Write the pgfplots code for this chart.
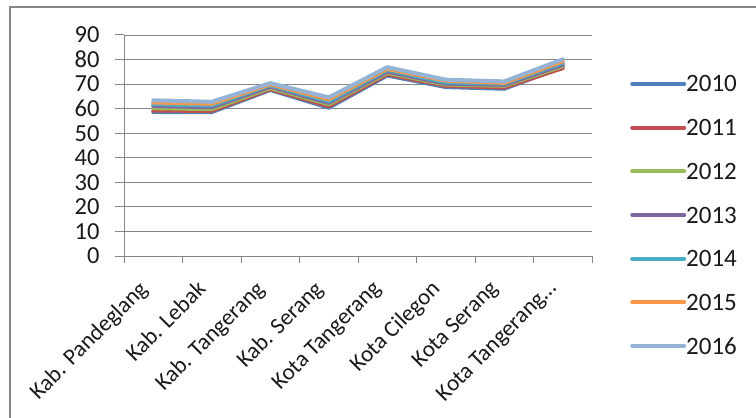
\documentclass[border=0pt]{standalone}
\usepackage{pgfplots}
\pgfplotsset{compat=1.18}
\usepackage{fontspec}
\setmainfont{Carlito}
\definecolor{cA}{HTML}{4F81BD}
\definecolor{cB}{HTML}{C0504D}
\definecolor{cC}{HTML}{9BBB59}
\definecolor{cD}{HTML}{8064A2}
\definecolor{cE}{HTML}{4BACC6}
\definecolor{cF}{HTML}{F79646}
\definecolor{cG}{HTML}{95B3D7}
\definecolor{gridcol}{HTML}{868686}
\definecolor{txt}{HTML}{1A1A1A}
\begin{document}
\begin{tikzpicture}[x=1bp,y=1bp]
\path[use as bounding box] (0,0) rectangle (756,417);
\draw[color=gridcol, line width=2bp] (10,-5) -- (10,410) -- (760,410);
\begin{axis}[
  at={(124bp,161bp)}, anchor=south west,
  scale only axis, width=468bp, height=221bp,
  xmin=-0.5, xmax=7.5, ymin=0, ymax=90,
  axis lines*=left,
  axis line style={gridcol, line width=1bp},
  ytick={0,10,...,90},
  ymajorgrids, grid style={gridcol, line width=0.8bp},
  xtick={0,...,7},
  xticklabels={Kab. Pandeglang, Kab. Lebak, Kab. Tangerang, Kab. Serang, Kota Tangerang, Kota Cilegon, Kota Serang, Kota Tangerang…},
  minor xtick={-0.5,0.5,...,7.5},
  major x tick style={draw=none},
  tick align=outside,
  major tick length=9bp, minor tick length=7bp,
  tick style={gridcol, line width=1bp},
  every tick/.style={gridcol, line width=1bp},
  /pgf/number format/assume math mode=true,
  yticklabel style={font=\fontsize{24.5bp}{28bp}\selectfont, text=txt, anchor=east, xshift=-12bp},
  xticklabel style={font=\fontsize{23bp}{27bp}\selectfont, text=txt, xshift=-16bp, yshift=-11bp, rotate=45, anchor=north east, inner sep=2bp},
  clip=false,
  legend style={at={(1.0812,0.1855)}, anchor=west, draw=none, fill=none, inner sep=0pt,
    font=\fontsize{25bp}{28bp}\selectfont, text=txt,
    nodes={inner sep=0bp, text height=16bp, text depth=0bp},
    column sep=0bp, row sep=27.7bp},
  legend cell align=left,
  legend image code/.code={\draw[#1] (0bp,0bp) -- (52bp,0bp);},
  every axis plot/.append style={line width=4bp, line join=round, line cap=round},
]
\addplot[cA] coordinates {(0,58.6) (1,58.6) (2,67.6) (3,60.4) (4,73.5) (5,68.8) (6,68.1) (7,77.0)};
\addplot[cB] coordinates {(0,59.2) (1,59.1) (2,67.9) (3,61.0) (4,74.0) (5,69.3) (6,68.6) (7,76.5)};
\addplot[cC] coordinates {(0,60.2) (1,59.8) (2,68.4) (3,61.8) (4,74.6) (5,69.8) (6,69.3) (7,77.3)};
\addplot[cD] coordinates {(0,61.1) (1,60.6) (2,69.0) (3,62.4) (4,75.1) (5,70.2) (6,69.7) (7,77.9)};
\addplot[cE] coordinates {(0,61.8) (1,61.3) (2,69.5) (3,63.0) (4,75.7) (5,70.7) (6,70.2) (7,78.6)};
\addplot[cF] coordinates {(0,62.5) (1,62.0) (2,69.9) (3,63.8) (4,76.2) (5,71.4) (6,70.5) (7,79.3)};
\addplot[cG] coordinates {(0,63.4) (1,62.8) (2,70.4) (3,64.6) (4,76.9) (5,71.8) (6,71.1) (7,80.1)};
\legend{2010,2011,2012,2013,2014,2015,2016}
\end{axis}
\end{tikzpicture}
\end{document}
